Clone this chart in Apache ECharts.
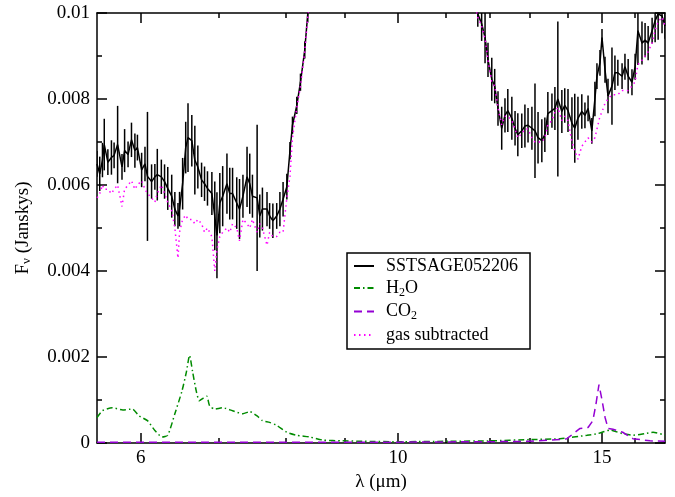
<!DOCTYPE html>
<html>
<head>
<meta charset="utf-8">
<script src="https://cdn.jsdelivr.net/npm/echarts@6/dist/echarts.min.js"></script>
<style>
html, body { margin: 0; padding: 0; background: #fff; }
#chart { width: 675px; height: 497px; }
</style>
</head>
<body>
<div id="chart"></div>
<script>
// wavelength grid of the observed spectrum (um)
var specWave = [5.50,5.53,5.56,5.58,5.62,5.66,5.69,5.73,5.78,5.81,5.85,5.89,5.93,5.96,6.01,6.05,6.08,6.13,6.17,6.20,
  6.25,6.29,6.33,6.38,6.42,6.46,6.48,6.52,6.56,6.59,6.64,6.68,6.72,6.77,6.81,6.85,6.91,6.95,6.98,7.02,
  7.06,7.12,7.16,7.20,7.26,7.30,7.35,7.41,7.45,7.49,7.56,7.60,7.64,7.71,7.75,7.80,7.86,7.91,7.96,8.02,
  8.07,8.11,8.18,8.24,8.31,8.36,
  8.45,8.70,9.20,10.0,10.8,11.3,11.55,
  11.72,11.81,11.89,11.96,12.05,12.12,12.20,12.29,12.37,12.44,12.54,12.62,12.69,12.79,12.87,12.95,13.05,13.13,13.21,13.31,
  13.39,13.47,13.58,13.66,13.74,13.85,13.93,14.02,14.13,14.21,14.30,14.41,14.50,14.59,14.70,14.79,14.85,14.94,15.00,15.09,
  15.18,15.30,15.39,15.48,15.61,15.70,15.80,15.92,16.02,16.11,16.24,16.34,16.44,16.57,16.67,16.77,16.90,17.00];
var specFlux = [0.00649,0.00626,0.00658,0.00694,0.00653,0.00664,0.00669,0.00694,0.00642,0.00680,0.00671,0.00705,0.00680,0.00687,0.00635,0.00649,0.00620,0.00608,0.00619,0.00624,
  0.00619,0.00608,0.00592,0.00574,0.00544,0.00528,0.00544,0.00603,0.00687,0.00710,0.00703,0.00658,0.00642,0.00612,0.00603,0.00592,0.00580,0.00528,0.00483,0.00558,
  0.00574,0.00603,0.00580,0.00580,0.00558,0.00544,0.00574,0.00619,0.00603,0.00574,0.00570,0.00528,0.00544,0.00544,0.00528,0.00517,0.00528,0.00544,0.00567,0.00596,
  0.00680,0.00739,0.00785,0.00839,0.00914,0.00998,
  0.0113,0.0132,0.0150,0.0160,0.0155,0.0128,0.0108,
  0.00998,0.00975,0.00943,0.00891,0.00846,0.00830,0.00778,0.00732,0.00762,0.00773,0.00755,0.00732,0.00717,0.00726,0.00737,0.00739,0.00732,0.00726,0.00710,0.00703,
  0.00717,0.00766,0.00773,0.00778,0.00800,0.00771,0.00785,0.00773,0.00744,0.00732,0.00755,0.00771,0.00762,0.00778,0.00726,0.00800,0.00853,0.00884,0.00943,0.00868,
  0.00807,0.00830,0.00861,0.00861,0.00853,0.00875,0.00853,0.00839,0.00875,0.00959,0.00930,0.00937,0.00930,0.00959,0.00982,0.00998,0.00993,0.00970];
var specErr = [0.0003,0.0004,0.0004,0.0006,0.0003,0.0004,0.0003,0.0009,0.0003,0.0005,0.0003,0.0004,0.0004,0.0003,0.0004,0.0004,0.0015,0.0004,0.0003,0.0006,
  0.0004,0.0004,0.0005,0.0005,0.0004,0.0003,0.0004,0.0006,0.0006,0.0008,0.0006,0.0008,0.0005,0.0004,0.0004,0.0004,0.0005,0.0008,0.0010,0.0007,
  0.0007,0.0007,0.0006,0.0006,0.0006,0.0007,0.0005,0.0007,0.0007,0.0005,0.0017,0.0005,0.0005,0.0004,0.0003,0.0004,0.0003,0.0004,0.0004,0.0003,
  0.0002,0.0002,0.0002,0.0002,0.0002,0.0002,
  0,0,0,0,0,0,0,
  0.0003,0.0004,0.0006,0.0004,0.0005,0.0004,0.0004,0.0005,0.0004,0.0005,0.0005,0.0004,0.0005,0.0004,0.0005,0.0004,0.0005,0.0011,0.0006,0.0005,
  0.0004,0.0005,0.0004,0.0005,0.0018,0.0005,0.0004,0.0005,0.0006,0.0008,0.0005,0.0004,0.0003,0.0003,0.0003,0.0004,0.0003,0.0003,0.0002,0.0003,
  0.0004,0.0009,0.0004,0.0003,0.0003,0.0003,0.0004,0.0003,0.0003,0.0008,0.0005,0.0004,0.0004,0.0003,0.0005,0.0006,0.0004,0.0003];
// gas subtracted spectrum, same grid
var gasSubFlux = [0.0057,0.0058,0.0060,0.0059,0.0059,0.0058,0.0059,0.0060,0.0055,0.0059,0.0060,0.0061,0.0059,0.0060,0.0061,0.0059,0.0058,0.0057,0.0056,0.0058,
  0.0060,0.0058,0.0056,0.0054,0.0050,0.0043,0.0049,0.0052,0.0053,0.0052,0.0052,0.0051,0.0052,0.0051,0.0049,0.0050,0.0048,0.0040,0.0045,0.0048,
  0.0049,0.0050,0.0049,0.0051,0.0050,0.0047,0.0052,0.0051,0.0050,0.0052,0.0049,0.0051,0.0050,0.0046,0.0049,0.0048,0.0048,0.0049,0.0049,0.0057,
  0.0062,0.0071,0.0078,0.0083,0.0091,0.0099,
  0.0113,0.0132,0.0150,0.0160,0.0155,0.0128,0.0108,
  0.0099,0.0097,0.0094,0.0089,0.0084,0.0083,0.0078,0.0074,0.0076,0.0076,0.0075,0.0073,0.0071,0.0072,0.0073,0.0073,0.0071,0.0070,0.0070,0.0070,
  0.0071,0.0074,0.0075,0.0077,0.0078,0.0075,0.0076,0.0075,0.0070,0.0068,0.0066,0.0069,0.0070,0.0071,0.0070,0.0071,0.0073,0.0076,0.0077,0.0079,
  0.0080,0.0081,0.0081,0.0081,0.0082,0.0082,0.0082,0.0083,0.0084,0.0088,0.0089,0.0090,0.0091,0.0093,0.0096,0.0098,0.0099,0.0097];
// H2O model
var h2oWave = [5.50,5.56,5.67,5.79,5.90,5.98,6.08,6.17,6.26,6.33,6.42,6.51,6.57,6.61,6.65,6.70,6.74,6.79,6.84,6.88,
  6.95,7.06,7.20,7.35,7.45,7.56,7.64,7.75,7.86,8.02,8.18,8.39,8.61,8.96,9.32,10.0,11.08,12.0,13.0,13.8,
  14.56,14.88,15.24,15.61,15.95,16.34,16.6,17.0];
var h2oFlux = [0.00059,0.00075,0.00082,0.00077,0.00079,0.00063,0.00052,0.00029,0.00014,0.00018,0.00068,0.00120,0.00166,0.00204,0.00166,0.00120,0.00098,0.00104,0.00109,0.00086,
  0.00079,0.00082,0.00075,0.00068,0.00073,0.00063,0.00052,0.00048,0.00041,0.00025,0.00018,0.00014,0.00007,0.00005,0.00004,0.00003,0.00004,0.00005,0.00008,0.00010,
  0.00018,0.00022,0.00030,0.00022,0.00018,0.00022,0.00025,0.00018];
// CO2 model
var co2Wave = [5.50,8.0,10.0,12.0,13.0,13.8,13.99,14.36,14.59,14.73,14.82,14.91,15.0,15.09,15.18,15.33,15.63,15.95,16.5,17.0];
var co2Flux = [0.00002,0.00002,0.00002,0.00003,0.00004,0.00008,0.00010,0.00034,0.00036,0.00052,0.00090,0.00136,0.00100,0.00060,0.00034,0.00032,0.00025,0.00010,0.00005,0.00004];

var majorTicks = [6, 10, 15];
var minorTicks = [7, 8, 9, 11, 12, 13, 14, 16];

function zip(a, b) { return a.map(function (v, i) { return [v, b[i]]; }); }

var font = 'Liberation Serif';
var chart = echarts.init(document.getElementById('chart'));

function xAxisDef(pos, ticks, len, label, line) {
  return {
    type: 'log', logBase: 10, min: 5.5, max: 17, position: pos,
    axisLine: { show: line, onZero: false, lineStyle: { color: '#000', width: 1.5 } },
    axisTick: { show: true, inside: true, length: len, customValues: ticks, lineStyle: { color: '#000', width: 1.5 } },
    axisLabel: { show: label, customValues: ticks, margin: 6, color: '#000', fontFamily: font, fontSize: 19 },
    splitLine: { show: false },
    minorTick: { show: false },
    name: label ? '\u03bb (\u03bcm)' : '',
    nameLocation: 'middle', nameGap: 30,
    nameTextStyle: { color: '#000', fontFamily: font, fontSize: 19 }
  };
}
function yAxisDef(pos, label) {
  return {
    type: 'value', min: 0, max: 0.01, interval: 0.002, position: pos,
    axisLine: { show: true, onZero: false, lineStyle: { color: '#000', width: 1.5 } },
    axisTick: { inside: true, length: 10, lineStyle: { color: '#000', width: 1.5 } },
    minorTick: { show: true, splitNumber: 2, length: 5, lineStyle: { color: '#000', width: 1.5 } },
    axisLabel: { show: label, margin: 7, color: '#000', fontFamily: font, fontSize: 19 },
    splitLine: { show: false },
    name: label ? 'F{sub|\u03bd} (Janskys)' : '',
    nameLocation: 'middle', nameGap: 64,
    nameTextStyle: { color: '#000', fontFamily: font, fontSize: 19,
      rich: { sub: { fontFamily: font, fontSize: 13, padding: [0, 0, 0, 0], verticalAlign: 'bottom' } } }
  };
}

var option = {
  backgroundColor: '#fff',
  animation: false,
  grid: { left: 97, right: 10, top: 13, bottom: 45 },
  xAxis: [
    xAxisDef('bottom', majorTicks, 10, true, true),
    xAxisDef('bottom', minorTicks, 5, false, false),
    xAxisDef('top', majorTicks, 10, false, true),
    xAxisDef('top', minorTicks, 5, false, false)
  ],
  yAxis: [yAxisDef('left', true), yAxisDef('right', false)],
  legend: {
    data: ['SSTSAGE052206', 'H2O', 'CO2', 'gas subtracted'],
    orient: 'vertical', left: 347, top: 253,
    padding: [4, 12, 5, 6], itemGap: 4, itemWidth: 20, itemHeight: 14,
    borderColor: '#000', borderWidth: 1.5, borderRadius: 0,
    backgroundColor: '#fff',
    itemStyle: { color: 'rgba(0,0,0,0)', borderWidth: 0 },
    formatter: function (name) {
      if (name === 'H2O') return 'H{sub|2}O';
      if (name === 'CO2') return 'CO{sub|2}';
      return name;
    },
    textStyle: {
      color: '#000', fontFamily: font, fontSize: 18, padding: [0, 0, 0, 7],
      rich: { sub: { color: '#000', fontFamily: font, fontSize: 12, padding: [9, 0, 0, 0] } }
    }
  },
  series: [
    {
      name: 'SSTSAGE052206', type: 'line', data: zip(specWave, specFlux),
      showSymbol: false, symbol: 'none', clip: true,
      lineStyle: { color: '#000', width: 1.5 }, itemStyle: { color: '#000' }, z: 3
    },
    {
      name: 'errors', type: 'custom', clip: true, z: 3,
      data: specWave.map(function (w, i) { return [w, specFlux[i], specErr[i]]; }),
      renderItem: function (params, api) {
        var x = api.value(0), y = api.value(1), e = api.value(2);
        if (!e) return null;
        var p1 = api.coord([x, y - e]);
        var p2 = api.coord([x, y + e]);
        return { type: 'line', shape: { x1: p1[0], y1: p1[1], x2: p2[0], y2: p2[1] },
          style: { stroke: '#000', lineWidth: 1.5 } };
      }
    },
    {
      name: 'H2O', type: 'line', data: zip(h2oWave, h2oFlux), showSymbol: false, symbol: 'none', smooth: 0.2,
      lineStyle: { color: '#008b00', width: 1.5, type: [6, 3, 1.5, 3] }, itemStyle: { color: '#008b00' }, z: 4
    },
    {
      name: 'CO2', type: 'line', data: zip(co2Wave, co2Flux), showSymbol: false, symbol: 'none',
      lineStyle: { color: '#9400d3', width: 1.5, type: [8, 5] }, itemStyle: { color: '#9400d3' }, z: 4
    },
    {
      name: 'gas subtracted', type: 'line', data: zip(specWave, gasSubFlux), showSymbol: false, symbol: 'none', clip: true,
      lineStyle: { color: '#ff00ff', width: 1.5, type: [1.5, 3.5] }, itemStyle: { color: '#ff00ff' }, z: 5
    }
  ]
};
chart.setOption(option);
</script>
</body>
</html>
